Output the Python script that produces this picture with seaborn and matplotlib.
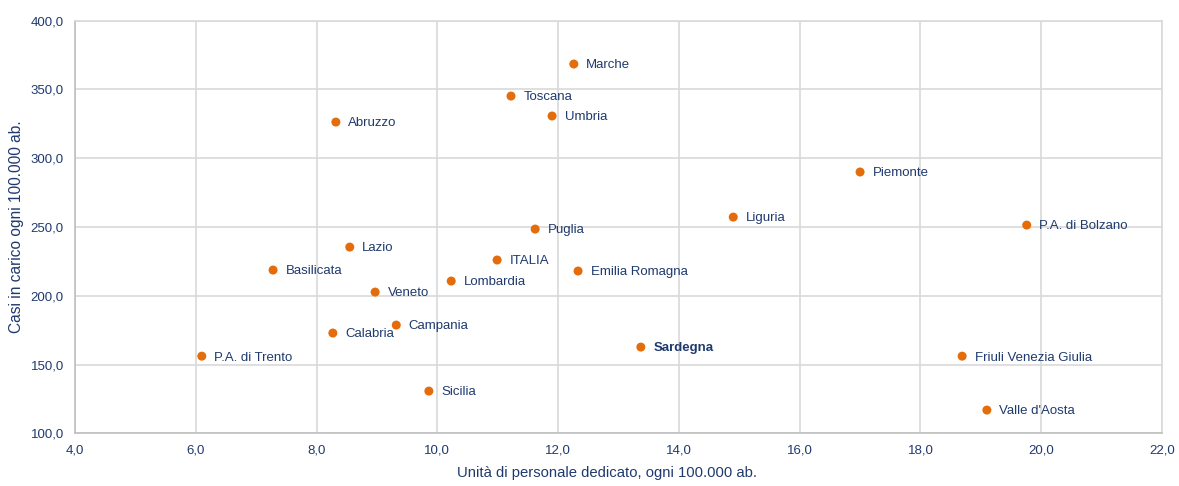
import numpy as np
import pandas as pd
import matplotlib
matplotlib.use("Agg")
import matplotlib.pyplot as plt
import seaborn as sns
from matplotlib.ticker import FuncFormatter, MultipleLocator

# =========================
# DATA
# =========================

regions = ["Marche", "Toscana", "Umbria", "Abruzzo", "Piemonte", "Liguria",
           "P.A. di Bolzano", "Puglia", "Lazio", "ITALIA", "Basilicata",
           "Emilia Romagna", "Lombardia", "Veneto", "Campania", "Calabria",
           "Sardegna", "P.A. di Trento", "Friuli Venezia Giulia", "Sicilia",
           "Valle d'Aosta"]

staff = [12.26, 11.22, 11.90, 8.32, 17.00, 14.90,
         19.76, 11.62, 8.55, 10.99, 7.28,
         12.33, 10.23, 8.97, 9.32, 8.27,
         13.37, 6.10, 18.69, 9.86,
         19.10]

cases = [368.5, 345.2, 330.7, 326.3, 290.0, 257.2,
         251.4, 248.5, 235.4, 226.0, 218.7,
         218.0, 210.7, 202.7, 178.7, 172.9,
         162.7, 156.1, 156.1, 130.7,
         116.9]

highlight = "Sardegna"

df = pd.DataFrame({"region": regions, "staff": staff, "cases": cases})

# =========================
# STYLE
# =========================

ORANGE = "#E46C0A"
NAVY = "#1F3A6E"
GRID = "#D9D9D9"

sns.set_style("white")
plt.rcParams['font.family'] = ['Liberation Sans', 'DejaVu Sans']

fig = plt.figure(figsize=(11.79, 4.86), dpi=100)
ax = fig.add_axes([0.0636, 0.1084, 0.922, 0.849])

sns.scatterplot(data=df, x="staff", y="cases", ax=ax, color=ORANGE,
                s=42, edgecolor="none", zorder=3)

for _, row in df.iterrows():
    weight = "bold" if row["region"] == highlight else "normal"
    ax.annotate(row["region"], (row["staff"], row["cases"]),
                xytext=(9, -1), textcoords="offset points",
                ha="left", va="center", fontsize=9.5, color=NAVY,
                fontweight=weight)

ax.set_xlim(4, 22)
ax.set_ylim(100, 400)
ax.xaxis.set_major_locator(MultipleLocator(2))
ax.yaxis.set_major_locator(MultipleLocator(50))
fmt = FuncFormatter(lambda v, p: f"{v:.1f}".replace(".", ","))
ax.xaxis.set_major_formatter(fmt)
ax.yaxis.set_major_formatter(fmt)

ax.grid(True, color=GRID, linewidth=1.2)
ax.set_axisbelow(True)
for side in ["top", "right"]:
    ax.spines[side].set_color(GRID)
    ax.spines[side].set_linewidth(1.2)
for side in ["bottom", "left"]:
    ax.spines[side].set_color("#BFBFBF")
    ax.spines[side].set_linewidth(1.2)

ax.tick_params(axis="both", length=0, pad=8, labelsize=9.5, labelcolor=NAVY)
ax.set_xlabel("Unità di personale dedicato, ogni 100.000 ab.", fontsize=10.7,
              color=NAVY)
ax.xaxis.set_label_coords(0.489, -0.08)
ax.set_ylabel("Casi in carico ogni 100.000 ab.", fontsize=11.2, color=NAVY,
              labelpad=5)

fig.savefig("out.png", dpi=100)
